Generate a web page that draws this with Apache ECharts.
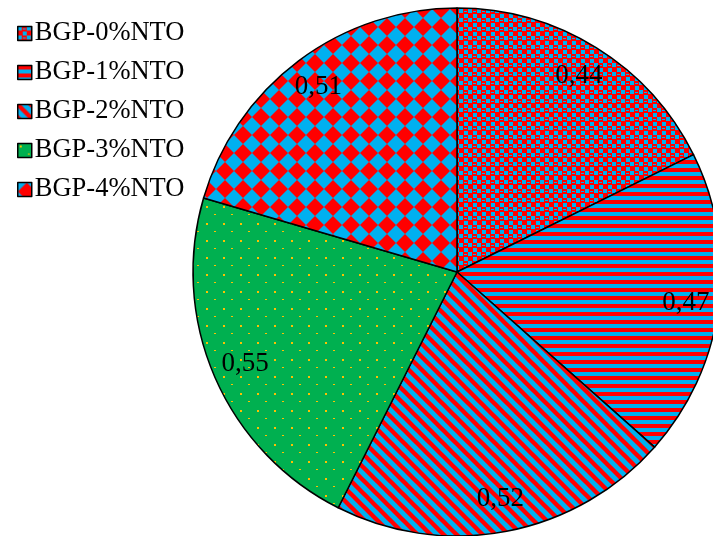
<!DOCTYPE html>
<html>
<head>
<meta charset="utf-8">
<script src="https://cdn.jsdelivr.net/npm/echarts@6/dist/echarts.min.js"></script>
<style>
  html, body { margin: 0; padding: 0; background: #fff; }
  #chart { width: 713px; height: 536px; }
</style>
</head>
<body>
<div id="chart"></div>
<script>
  // data
  const categories = ['BGP-0%NTO', 'BGP-1%NTO', 'BGP-2%NTO', 'BGP-3%NTO', 'BGP-4%NTO'];
  const values = [0.44, 0.47, 0.52, 0.55, 0.51];

  const RED = '#ff0000', BLUE = '#00b0f0', GREEN = '#00b050', YELLOW = '#ffc000';

  function tile(w, h, draw) {
    const c = document.createElement('canvas');
    c.width = w; c.height = h;
    draw(c.getContext('2d'));
    return { image: c, repeat: 'repeat' };
  }

  // small checker
  const pat0 = tile(9, 9, ctx => {
    ctx.fillStyle = RED; ctx.fillRect(0, 0, 9, 9);
    ctx.fillStyle = BLUE;
    ctx.fillRect(0, 0, 4, 4);
    ctx.fillRect(5, 5, 4, 4);
    ctx.fillRect(5, 2, 3, 1);
  });
  // horizontal stripes
  const pat1 = tile(8, 8, ctx => {
    ctx.fillStyle = BLUE; ctx.fillRect(0, 0, 8, 8);
    ctx.fillStyle = RED; ctx.fillRect(0, 0, 8, 4);
  });
  // diagonal stripes
  const pat2 = tile(13, 13, ctx => {
    ctx.fillStyle = BLUE; ctx.fillRect(0, 0, 13, 13);
    ctx.strokeStyle = RED; ctx.lineWidth = 4.4;
    for (let k = -2; k <= 2; k++) {
      ctx.beginPath();
      ctx.moveTo(k * 13 - 3, -3);
      ctx.lineTo(k * 13 + 16, 16);
      ctx.stroke();
    }
  });
  // green with yellow dots
  const pat3 = tile(17, 17, ctx => {
    ctx.fillStyle = GREEN; ctx.fillRect(0, 0, 17, 17);
    ctx.fillStyle = YELLOW;
    ctx.fillRect(2, 2, 2, 2);
    ctx.fillRect(10, 10, 2, 1);
  });
  // diamonds
  const pat4 = tile(18, 18, ctx => {
    ctx.fillStyle = BLUE; ctx.fillRect(0, 0, 18, 18);
    ctx.fillStyle = RED;
    ctx.beginPath();
    ctx.moveTo(9, 0); ctx.lineTo(18, 9); ctx.lineTo(9, 18); ctx.lineTo(0, 9);
    ctx.closePath(); ctx.fill();
  });
  const patterns = [pat0, pat1, pat2, pat3, pat4];

  const chart = echarts.init(document.getElementById('chart'));
  chart.setOption({
    animation: false,
    legend: {
      orient: 'vertical',
      left: 12,
      top: 15,
      itemWidth: 14,
      itemHeight: 14,
      itemGap: 12,
      icon: 'rect',
      data: categories.map((n, i) => ({ name: n, itemStyle: { color: patterns[i], borderColor: '#000', borderWidth: 1.5 } })),
      textStyle: { fontFamily: 'Liberation Serif', fontSize: 26.5, color: '#000', padding: [0, 0, 0, -2] }
    },
    series: [{
      name: 'main',
      type: 'pie',
      center: [457, 272],
      radius: [0, 264],
      startAngle: 90,
      clockwise: true,
      label: { show: false },
      labelLine: { show: false },
      itemStyle: { borderColor: '#000', borderWidth: 1.5 },
      data: categories.map((n, i) => ({ name: n, value: values[i], itemStyle: { color: patterns[i] } }))
    }, {
      name: 'labels',
      type: 'pie',
      silent: true,
      legendHoverLink: false,
      center: [457, 272],
      radius: [192, 264],
      startAngle: 90,
      clockwise: true,
      itemStyle: { color: 'rgba(0,0,0,0)', borderWidth: 0 },
      label: {
        show: true,
        position: 'inside',
        formatter: p => String(p.value).replace('.', ','),
        fontFamily: 'Liberation Serif',
        fontSize: 27,
        color: '#000'
      },
      labelLine: { show: false },
      data: categories.map((n, i) => ({ name: n, value: values[i] }))
    }]
  });
</script>
</body>
</html>
